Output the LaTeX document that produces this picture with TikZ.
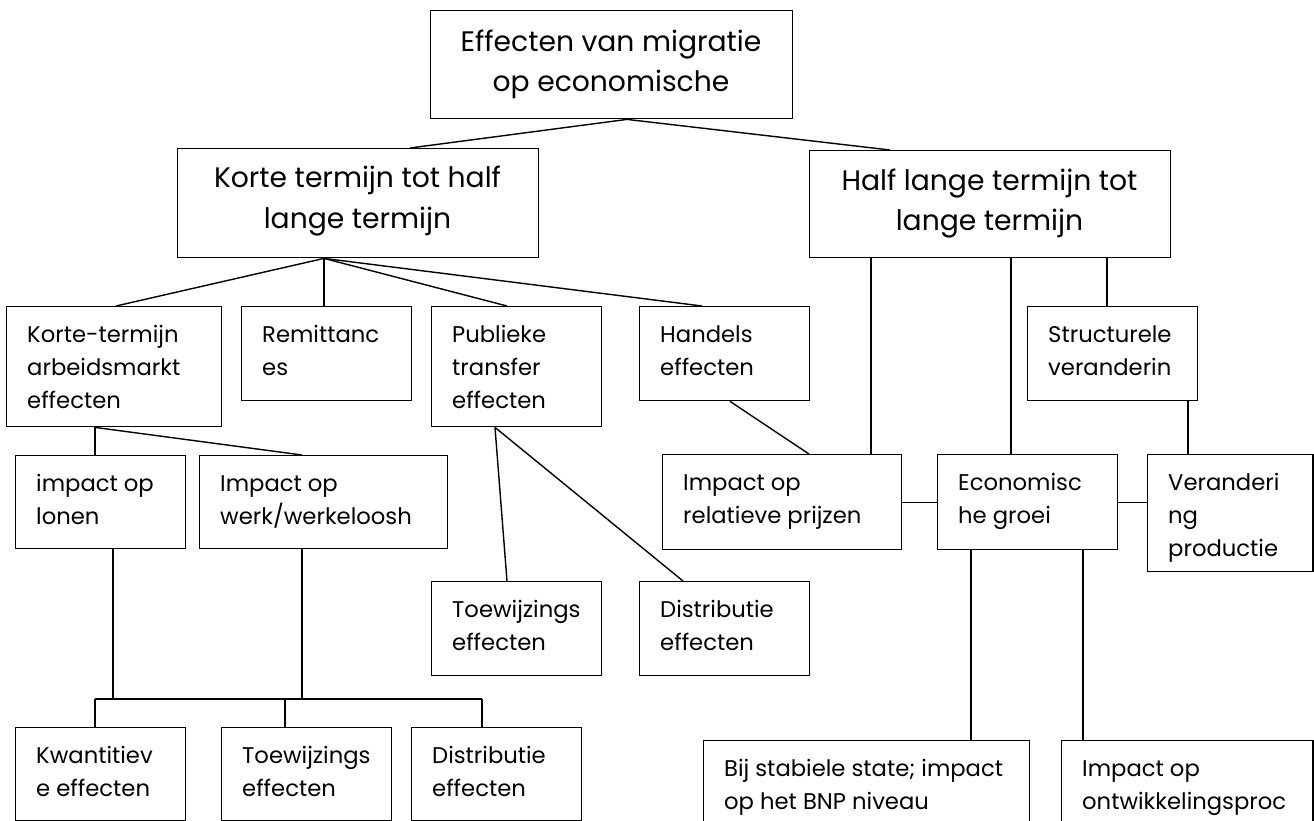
\documentclass[tikz,border=0pt]{standalone}
\usepackage{fontspec}
\setmainfont{Poppins}
\newcommand\smallf{\fontsize{22.7}{33}\selectfont}
\newcommand\bigf{\fontsize{28.2}{40}\selectfont}
\tikzset{
  box/.style={draw, line width=1.4pt, inner sep=0pt, anchor=north west},
  conn/.style={line width=1.4pt},
  smalltext/.style={anchor=base west, inner sep=0pt, font=\smallf},
  bigtext/.style={anchor=base, inner sep=0pt, font=\bigf},
}
\newcommand\bx[5]{\node[box, minimum width=#4pt-#2pt, minimum height=#5pt-#3pt] (#1) at (#2,#3) {};}
\begin{document}
\begin{tikzpicture}[x=1pt,y=-1pt]
\useasboundingbox (0,0) rectangle (1314,821);
\clip (0,0) rectangle (1314,821);
\fill[white] (0,0) rectangle (1314,821);
% boxes
\bx{top}{430}{10}{792}{118}
\bx{kort}{177}{148}{538}{257}
\bx{half}{809}{150}{1170}{257}
\bx{ktl}{6}{306}{221}{426}
\bx{rem}{241}{306}{411}{400}
\bx{pub}{431}{306}{601}{426}
\bx{han}{639}{306}{809}{400}
\bx{str}{1027}{306}{1197}{400}
\bx{lon}{15}{455}{185}{548}
\bx{wer}{199}{455}{447}{548}
\bx{rel}{662}{454}{901}{549}
\bx{eco}{937}{454}{1117}{549}
\bx{ver}{1147}{454}{1312.3}{571}
\bx{toe1}{431}{581}{601}{675}
\bx{dis1}{639}{581}{809}{675}
\bx{kwa}{15}{727}{185}{820}
\bx{toea}{221}{727}{391}{820}
\bx{disa}{411}{727}{581}{820}
\bx{bij}{703}{740}{1029}{850}
\bx{ont}{1061}{740}{1312.3}{850}
% texts
\node[bigtext] (top-a) at (611,51.7) {Effecten van migratie};
\node[bigtext] (top-b) at (611,91.7) {op economische};
\node[bigtext] (kort-a) at (357.5,188) {Korte termijn tot half};
\node[bigtext] (kort-b) at (357.5,228.5) {lange termijn};
\node[bigtext] (half-a) at (989.5,190.5) {Half lange termijn tot};
\node[bigtext] (half-b) at (989.5,230.5) {lange termijn};
\node[smalltext] (ktl-t) at (27,342) {\vtop{\hbox{Korte-termijn}\hbox{arbeidsmarkt}\hbox{effecten}}};
\node[smalltext] (rem-t) at (262,342) {\vtop{\hbox{Remittanc}\hbox{es}}};
\node[smalltext] (pub-t) at (452,342) {\vtop{\hbox{Publieke}\hbox{transfer}\hbox{effecten}}};
\node[smalltext] (han-t) at (660,342) {\vtop{\hbox{Handels}\hbox{effecten}}};
\node[smalltext] (str-t) at (1048,342) {\vtop{\hbox{Structurele}\hbox{veranderin}}};
\node[smalltext] (lon-t) at (36,491) {\vtop{\hbox{impact op}\hbox{lonen}}};
\node[smalltext] (wer-t) at (220,491) {\vtop{\hbox{Impact op}\hbox{werk/werkeloosh}}};
\node[smalltext] (rel-t) at (683,490) {\vtop{\hbox{Impact op}\hbox{relatieve prijzen}}};
\node[smalltext] (eco-t) at (958,490) {\vtop{\hbox{Economisc}\hbox{he groei}}};
\node[smalltext] (ver-t) at (1168,490) {\vtop{\hbox{Veranderi}\hbox{ng}\hbox{productie}}};
\node[smalltext] (toe1-t) at (452,617) {\vtop{\hbox{Toewijzings}\hbox{effecten}}};
\node[smalltext] (dis1-t) at (660,617) {\vtop{\hbox{Distributie}\hbox{effecten}}};
\node[smalltext] (kwa-t) at (36,763) {\vtop{\hbox{Kwantitiev}\hbox{e effecten}}};
\node[smalltext] (toea-t) at (242,763) {\vtop{\hbox{Toewijzings}\hbox{effecten}}};
\node[smalltext] (disa-t) at (432,763) {\vtop{\hbox{Distributie}\hbox{effecten}}};
\node[smalltext] (bij-t) at (724,776) {\vtop{\hbox{Bij stabiele state; impact}\hbox{op het BNP niveau}}};
\node[smalltext] (ont-t) at (1082,776) {\vtop{\hbox{Impact op}\hbox{ontwikkelingsproc}}};
% connectors
\draw[conn] ([xshift=197pt]top.south west) -- ([xshift=233pt]kort.north west);
\draw[conn] ([xshift=197pt]top.south west) -- ([xshift=81pt]half.north west);
\draw[conn] ([xshift=147pt]kort.south west) -- ([xshift=110pt]ktl.north west);
\draw[conn] ([xshift=147pt]kort.south west) -- ([xshift=83pt]rem.north west);
\draw[conn] ([xshift=147pt]kort.south west) -- ([xshift=76pt]pub.north west);
\draw[conn] ([xshift=147pt]kort.south west) -- ([xshift=63pt]han.north west);
\draw[conn] ([xshift=62pt]half.south west) -- ([xshift=209pt]rel.north west);
\draw[conn] ([xshift=202pt]half.south west) -- ([xshift=74pt]eco.north west);
\draw[conn] ([xshift=298pt]half.south west) -- ([xshift=80pt]str.north west);
\draw[conn] ([xshift=161pt]str.south west) -- ([xshift=41pt]ver.north west);
\draw[conn] ([xshift=91pt]han.south west) -- ([xshift=147pt]rel.north west);
\draw[conn] (rel.east) -- (eco.west);
\draw[conn] (eco.east) -- (eco.east -| ver.west);
\draw[conn] ([xshift=34pt]eco.south west) -- ([xshift=268pt]bij.north west);
\draw[conn] ([xshift=146pt]eco.south west) -- ([xshift=22pt]ont.north west);
\draw[conn] ([xshift=64pt]pub.south west) -- ([xshift=76pt]toe1.north west);
\draw[conn] ([xshift=64pt]pub.south west) -- ([xshift=44pt]dis1.north west);
\draw[conn] ([xshift=89pt]ktl.south west) -- ([xshift=80pt]lon.north west);
\draw[conn] ([xshift=89pt]ktl.south west) -- ([xshift=103pt]wer.north west);
\coordinate (barL) at (95,699);
\coordinate (barR) at (482,699);
\coordinate (lonb) at ([xshift=98pt]lon.south west);
\coordinate (werb) at ([xshift=103pt]wer.south west);
\coordinate (toeat) at ([xshift=64pt]toea.north west);
\draw[conn] (lonb) -- (lonb |- barL);
\draw[conn] (werb) -- (werb |- barL);
\draw[conn] (barL) -- (barR);
\draw[conn] (barL) -- ([xshift=80pt]kwa.north west);
\draw[conn] (toeat) -- (toeat |- barL);
\draw[conn] (barR) -- ([xshift=71pt]disa.north west);
\end{tikzpicture}
\end{document}
